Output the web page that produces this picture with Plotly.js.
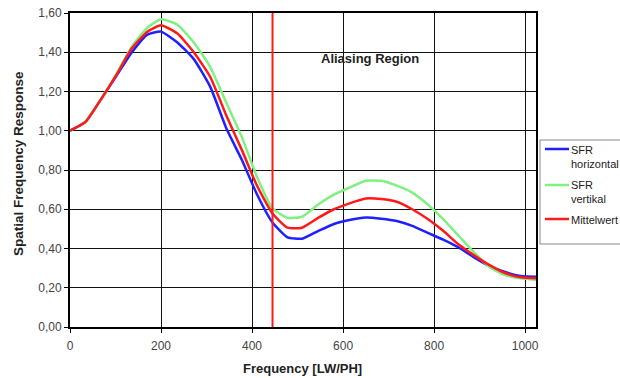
<!DOCTYPE html>
<html>
<head>
<meta charset="utf-8">
<script src="https://cdn.plot.ly/plotly-3.0.1.min.js"></script>
<style>html,body{margin:0;padding:0;background:#fff;}#chart{width:620px;height:378px;}</style>
</head>
<body>
<div id="chart"></div>
<script>
const freq = [0, 34, 68, 102, 136, 170, 200, 236, 272, 308, 344, 378, 410, 445, 478, 510, 546, 580, 614, 650, 684, 718, 752, 786, 820, 854, 888, 922, 956, 990, 1024];
const sfrHorizontal = [1.00, 1.045, 1.16, 1.28, 1.40, 1.49, 1.505, 1.45, 1.365, 1.225, 1.01, 0.85, 0.68, 0.532, 0.457, 0.450, 0.49, 0.525, 0.545, 0.558, 0.552, 0.54, 0.515, 0.48, 0.445, 0.405, 0.355, 0.31, 0.28, 0.26, 0.256];
const sfrVertikal = [1.00, 1.045, 1.16, 1.29, 1.43, 1.525, 1.568, 1.54, 1.45, 1.326, 1.14, 0.965, 0.77, 0.605, 0.556, 0.562, 0.625, 0.675, 0.71, 0.745, 0.745, 0.72, 0.685, 0.625, 0.55, 0.465, 0.38, 0.305, 0.265, 0.248, 0.24];
const mittelwert = [1.00, 1.045, 1.16, 1.285, 1.42, 1.505, 1.538, 1.495, 1.40, 1.275, 1.075, 0.90, 0.725, 0.578, 0.506, 0.506, 0.557, 0.60, 0.63, 0.655, 0.652, 0.638, 0.60, 0.55, 0.49, 0.42, 0.365, 0.315, 0.275, 0.253, 0.248];
const seriesNames = ["SFR<br>horizontal", "SFR<br>vertikal", "Mittelwert"];
const seriesColors = ["#1f1fff", "#80f080", "#ff1a1a"];
const aliasingLimit = 445;
const yTickVals = [0, 0.2, 0.4, 0.6, 0.8, 1.0, 1.2, 1.4, 1.6];
const yTickText = ["0,00", "0,20", "0,40", "0,60", "0,80", "1,00", "1,20", "1,40", "1,60"];
const xTickVals = [0, 200, 400, 600, 800, 1000];
const xTitle = "Frequency [LW/PH]";
const yTitle = "Spatial Frequency Response";

const font = "Liberation Sans, Arial, sans-serif";
const ys = [sfrHorizontal, sfrVertikal, mittelwert];
const traces = ys.map((y, i) => ({
  x: freq, y: y, type: "scatter", mode: "lines", name: seriesNames[i],
  line: {color: seriesColors[i], width: 2.5, shape: "spline", smoothing: 0.5},
  showlegend: false
}));

// custom legend (paper coordinates derived from the plot-area pixel box)
const L = 70, R = 536, T = 13, B = 327;
const px = v => (v - L) / (R - L);
const py = v => (B - v) / (B - T);
const legendRows = [149, 185, 219];
const shapes = [
  {type: "line", xref: "x", yref: "y", x0: aliasingLimit, x1: aliasingLimit, y0: 0, y1: 1.6,
   line: {color: "#ff1a1a", width: 2}, layer: "above"},
  {type: "rect", xref: "paper", yref: "paper", x0: px(540), x1: px(640), y0: py(244), y1: py(140),
   line: {color: "#888", width: 1}, fillcolor: "#fff", layer: "above"}
];
const annotations = [
  {x: 660, y: 1.37, xref: "x", yref: "y", showarrow: false,
   text: "<b>Aliasing Region</b>", font: {family: font, size: 13, color: "#222"}},
  {x: px(302), y: py(368), xref: "paper", yref: "paper", showarrow: false,
   xanchor: "center", yanchor: "middle",
   text: "<b>" + xTitle + "</b>", font: {family: font, size: 13, color: "#222"}},
  {x: px(18), y: py(164), xref: "paper", yref: "paper", showarrow: false,
   xanchor: "center", yanchor: "middle", textangle: -90,
   text: "<b>" + yTitle + "</b>", font: {family: font, size: 13.5, color: "#222"}}
];
seriesNames.forEach((name, i) => {
  shapes.push({type: "line", xref: "paper", yref: "paper", x0: px(545), x1: px(569),
    y0: py(legendRows[i]), y1: py(legendRows[i]), line: {color: seriesColors[i], width: 2.5}, layer: "above"});
  annotations.push({x: px(569), y: py(legendRows[i] - 7.5), xref: "paper", yref: "paper",
    xanchor: "left", yanchor: "top", align: "left", showarrow: false, text: name,
    font: {family: font, size: 11, color: "#222"}});
});

const layout = {
  width: 620, height: 378,
  margin: {l: 70, r: 84, t: 13, b: 51, autoexpand: false},
  paper_bgcolor: "#fff", plot_bgcolor: "#fff",
  font: {family: font, size: 12, color: "#333"},
  showlegend: false,
  xaxis: {
    range: [0, 1024], tickvals: xTickVals,
    showgrid: true, gridcolor: "#111", gridwidth: 1,
    showline: true, linecolor: "#000", linewidth: 2, mirror: true,
    ticks: "outside", ticklen: 4, tickcolor: "#000",
    ticklabelstandoff: 3,
    zeroline: false,
    tickfont: {family: font, size: 12, color: "#444"}
  },
  yaxis: {
    range: [0, 1.6], tickvals: yTickVals, ticktext: yTickText,
    showgrid: true, gridcolor: "#111", gridwidth: 1,
    showline: true, linecolor: "#000", linewidth: 2, mirror: true,
    ticks: "outside", ticklen: 4, tickcolor: "#000",
    zeroline: false,
    tickfont: {family: font, size: 12, color: "#444"}
  },
  shapes: shapes,
  annotations: annotations
};

Plotly.newPlot("chart", traces, layout, {staticPlot: true, displayModeBar: false});
</script>
</body>
</html>
